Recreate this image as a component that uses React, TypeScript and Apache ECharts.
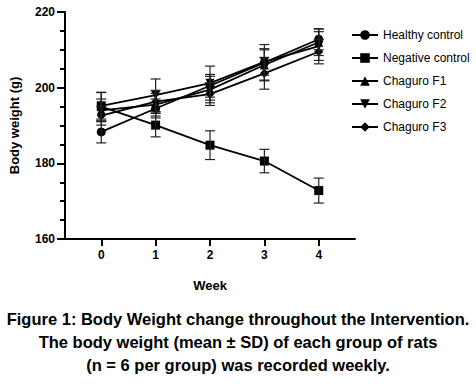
import React, { useEffect, useRef } from "react";
import * as echarts from "echarts";

const weeks = [0, 1, 2, 3, 4];
const seriesNames = ["Healthy control", "Negative control", "Chaguro F1", "Chaguro F2", "Chaguro F3"];
const healthyMean = [188.3, 194.5, 200.5, 206.6, 212.8];
const healthySD = [2.9, 2.5, 3.0, 4.8, 2.8];
const negativeMean = [195.0, 190.1, 184.8, 180.6, 172.8];
const negativeSD = [3.8, 3.1, 3.8, 3.1, 3.3];
const f1Mean = [194.0, 195.5, 199.5, 206.0, 212.0];
const f1SD = [3.0, 3.0, 3.5, 4.0, 3.5];
const f2Mean = [195.2, 198.0, 201.2, 206.8, 211.0];
const f2SD = [3.5, 4.3, 4.5, 3.5, 3.8];
const f3Mean = [192.6, 196.3, 198.3, 203.8, 209.5];
const f3SD = [2.5, 3.0, 3.0, 4.2, 3.2];
const captionLines = [
  "Figure 1: Body Weight change throughout the Intervention.",
  "The body weight (mean ± SD) of each group of rats",
  "(n = 6 per group) was recorded weekly.",
];

const means = [healthyMean, negativeMean, f1Mean, f2Mean, f3Mean];
const sds = [healthySD, negativeSD, f1SD, f2SD, f3SD];
const symbols = ["circle", "rect", "triangle", "triangle", "diamond"];
const symbolSizes = [9, 9, 9, 9, 9];
const rotations = [0, 0, 0, 180, 0];
const X_MIN = -2 / 3;
const X_MAX = 14 / 3;

export default function App() {
  const ref = useRef<HTMLDivElement>(null);
  useEffect(() => {
    document.body.style.margin = "0";
    const chart = echarts.init(ref.current!, null, { renderer: "svg" });
    const font = "'Liberation Sans', Arial, sans-serif";
    const lineSeries: any[] = seriesNames.map((name, i) => ({
      name,
      type: "line",
      data: weeks.map((w, j) => [w, means[i][j]]),
      symbol: symbols[i],
      symbolSize: symbolSizes[i],
      symbolRotate: rotations[i],
      lineStyle: { color: "#000", width: 1.8 },
      itemStyle: { color: "#000" },
      z: 3,
    }));
    const errSeries: any[] = seriesNames.map((name, i) => ({
      name: name + " SD",
      type: "custom",
      data: weeks.map((w, j) => [w, means[i][j] - sds[i][j], means[i][j] + sds[i][j]]),
      renderItem: (params: any, api: any) => {
        const x = api.value(0);
        const lo = api.coord([x, api.value(1)]);
        const hi = api.coord([x, api.value(2)]);
        const hw = 5;
        const style = { stroke: "#222", lineWidth: 1.2 };
        return {
          type: "group",
          children: [
            { type: "line", shape: { x1: lo[0], y1: lo[1], x2: hi[0], y2: hi[1] }, style },
            { type: "line", shape: { x1: lo[0] - hw, y1: lo[1], x2: lo[0] + hw, y2: lo[1] }, style },
            { type: "line", shape: { x1: hi[0] - hw, y1: hi[1], x2: hi[0] + hw, y2: hi[1] }, style },
          ],
        };
      },
      z: 4,
      silent: true,
    }));
    chart.setOption({
      animation: false,
      textStyle: { fontFamily: font },
      grid: { left: 61, top: 12, width: 294, height: 227, containLabel: false },
      legend: {
        data: seriesNames,
        orient: "vertical",
        left: 351,
        top: 29,
        padding: 0,
        itemWidth: 26,
        itemHeight: 12,
        itemGap: 11,
        textStyle: { fontSize: 12, color: "#000", fontFamily: font },
        selectedMode: false,
      },
      xAxis: {
        type: "value",
        min: X_MIN,
        max: X_MAX,
        name: "Week",
        nameLocation: "middle",
        nameGap: 40,
        nameTextStyle: { fontSize: 13, fontWeight: "bold", color: "#000" },
        axisLine: { show: true, onZero: false, lineStyle: { color: "#000", width: 2 } },
        axisTick: { show: true, length: 7, customValues: weeks, lineStyle: { color: "#000", width: 2 } },
        axisLabel: { customValues: weeks, fontSize: 12, fontWeight: "bold", color: "#000", margin: 10 },
        splitLine: { show: false },
      },
      yAxis: {
        type: "value",
        min: 160,
        max: 220,
        interval: 20,
        name: "Body weight (g)",
        nameLocation: "middle",
        nameGap: 44,
        nameTextStyle: { fontSize: 13, fontWeight: "bold", color: "#000" },
        axisLine: { show: true, onZero: false, lineStyle: { color: "#000", width: 2 } },
        axisTick: { show: true, length: 8, lineStyle: { color: "#000", width: 2 } },
        minorTick: { show: true, splitNumber: 4, length: 5, lineStyle: { color: "#000", width: 2 } },
        axisLabel: { fontSize: 12, fontWeight: "bold", color: "#000", margin: 10 },
        splitLine: { show: false },
      },
      graphic: captionLines.map((t, i) => ({
        type: "text",
        left: "center",
        top: 310 + i * 23,
        style: {
          text: t,
          fontSize: 16.5,
          fontWeight: "bold",
          fontFamily: font,
          fill: "#000",
        },
      })),
      series: [...lineSeries, ...errSeries],
    });
    return () => chart.dispose();
  }, []);
  return <div ref={ref} style={{ width: 476, height: 384 }} />;
}
